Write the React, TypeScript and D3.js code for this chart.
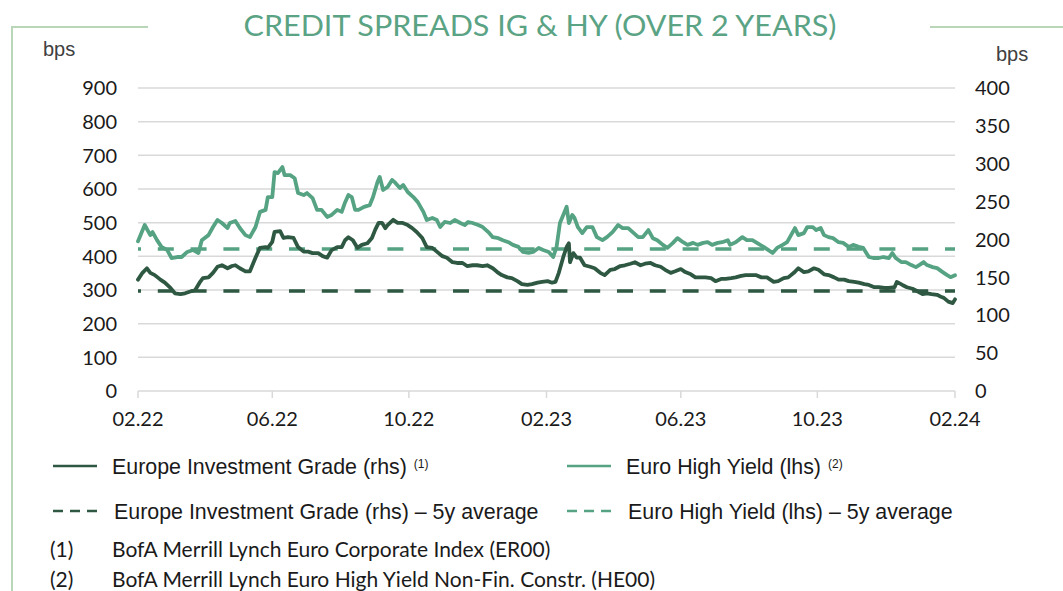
import React, { useRef, useEffect } from "react";
import * as d3 from "d3";

// days since 01.02.2022, spread in bps
const euroHighYield: [number, number][] = [
  [0, 445], [6, 493], [11, 463], [13, 472], [17, 448], [21, 428], [26, 419], [30, 395],
  [35, 398], [39, 398], [44, 413], [49, 419], [54, 410], [57, 448], [63, 463], [67, 487],
  [71, 508], [75, 499], [80, 484], [82, 499], [87, 505], [91, 484], [96, 463], [100, 457],
  [105, 487], [109, 532], [114, 538], [116, 576], [120, 576], [122, 650], [125, 647], [129, 665],
  [131, 641], [136, 641], [140, 632], [143, 588], [148, 582], [151, 588], [156, 573], [160, 538],
  [164, 538], [169, 517], [173, 523], [178, 538], [182, 532], [185, 560], [188, 582], [191, 576],
  [194, 538], [197, 538], [202, 547], [207, 552], [210, 576], [214, 621], [216, 636], [219, 597],
  [223, 606], [227, 627], [230, 618], [234, 603], [237, 612], [241, 591], [246, 576], [250, 561],
  [255, 532], [258, 508], [263, 514], [267, 508], [270, 487], [274, 502], [279, 499], [283, 508],
  [288, 499], [292, 493], [295, 502], [299, 499], [304, 493], [308, 487], [313, 472], [317, 457],
  [322, 454], [326, 448], [331, 442], [335, 434], [340, 428], [344, 413], [349, 410], [353, 413],
  [358, 425], [362, 419], [367, 413], [371, 398], [374, 428], [377, 499], [380, 523], [383, 547],
  [385, 499], [388, 523], [390, 514], [393, 487], [397, 469], [401, 487], [406, 487], [410, 457],
  [415, 448], [419, 457], [424, 472], [429, 493], [433, 484], [438, 484], [442, 472], [447, 457],
  [451, 457], [456, 478], [460, 454], [464, 448], [469, 434], [473, 425], [478, 440], [482, 454],
  [487, 442], [491, 434], [496, 440], [500, 434], [505, 440], [509, 442], [513, 434], [518, 440],
  [522, 442], [527, 448], [529, 434], [534, 442], [540, 457], [544, 448], [549, 448], [553, 440],
  [559, 428], [563, 419], [567, 410], [571, 425], [576, 434], [580, 442], [585, 472], [587, 484],
  [590, 463], [595, 469], [598, 487], [603, 487], [606, 478], [610, 484], [613, 463], [617, 457],
  [621, 454], [626, 442], [630, 440], [635, 428], [639, 434], [644, 428], [648, 425], [653, 398],
  [657, 395], [662, 395], [666, 398], [671, 395], [674, 410], [677, 395], [682, 383], [686, 383],
  [691, 374], [695, 368], [698, 374], [702, 383], [705, 374], [710, 368], [714, 365], [719, 353],
  [723, 344], [726, 338], [730, 344],
];

const europeIG: [number, number][] = [
  [0, 147], [4, 156], [8, 162], [11, 156], [15, 153], [20, 147], [24, 143], [29, 136],
  [33, 129], [38, 128], [42, 129], [46, 131], [51, 133], [55, 143], [58, 149], [63, 150],
  [67, 156], [71, 164], [75, 166], [80, 162], [84, 165], [87, 166], [91, 162], [96, 158],
  [100, 158], [105, 176], [109, 189], [114, 190], [116, 189], [120, 197], [122, 210], [127, 211],
  [130, 202], [134, 203], [139, 202], [143, 190], [148, 184], [152, 184], [156, 182], [161, 182],
  [165, 178], [169, 176], [173, 186], [178, 190], [182, 190], [185, 199], [188, 203], [192, 199],
  [196, 189], [200, 193], [205, 195], [209, 202], [212, 213], [215, 222], [218, 222], [221, 215],
  [223, 219], [228, 226], [232, 222], [236, 222], [241, 219], [245, 215], [249, 210], [254, 202],
  [258, 190], [263, 189], [267, 184], [272, 178], [276, 176], [281, 170], [285, 169], [290, 169],
  [294, 165], [299, 166], [303, 166], [308, 165], [312, 166], [317, 162], [321, 157], [325, 153],
  [330, 150], [334, 149], [339, 145], [343, 141], [348, 140], [352, 141], [357, 143], [361, 144],
  [366, 145], [370, 143], [373, 144], [376, 156], [380, 177], [383, 190], [385, 195], [386, 170],
  [389, 182], [392, 176], [395, 176], [399, 166], [404, 164], [408, 162], [413, 156], [417, 153],
  [422, 160], [426, 161], [431, 165], [435, 166], [440, 168], [444, 170], [449, 166], [453, 168],
  [458, 169], [462, 166], [467, 164], [471, 160], [476, 156], [480, 158], [485, 161], [489, 157],
  [494, 154], [498, 150], [503, 150], [507, 150], [512, 149], [516, 145], [521, 148], [525, 148],
  [530, 149], [534, 150], [539, 152], [543, 153], [548, 153], [552, 153], [557, 150], [562, 150],
  [568, 144], [572, 145], [577, 149], [581, 150], [586, 156], [590, 162], [595, 157], [599, 158],
  [604, 162], [608, 160], [613, 154], [617, 153], [622, 150], [626, 147], [631, 147], [635, 145],
  [640, 144], [644, 143], [649, 141], [653, 140], [658, 137], [662, 137], [667, 136], [671, 136],
  [676, 137], [678, 144], [683, 140], [687, 137], [692, 135], [696, 132], [701, 128], [705, 129],
  [709, 128], [714, 127], [718, 124], [720, 123], [724, 118], [728, 116], [730, 121],
];

const hyAverage = 422;
const igAverage = 132;

const leftTicks = [0, 100, 200, 300, 400, 500, 600, 700, 800, 900];
const rightTicks = [0, 50, 100, 150, 200, 250, 300, 350, 400];

const legendItems = [
  { label: "Europe Investment Grade (rhs)", note: "(1)", color: "#2e5842", dashed: false, x: 53, y: 466 },
  { label: "Euro High Yield (lhs)", note: "(2)", color: "#55a383", dashed: false, x: 567, y: 466 },
  { label: "Europe Investment Grade (rhs) \u2013 5y average", note: "", color: "#2e5842", dashed: true, x: 53, y: 511 },
  { label: "Euro High Yield (lhs) \u2013 5y average", note: "", color: "#55a383", dashed: true, x: 567, y: 511 },
];

const footnotes = [
  ["(1)", "BofA Merrill Lynch Euro Corporate Index (ER00)"],
  ["(2)", "BofA Merrill Lynch Euro High Yield Non-Fin. Constr. (HE00)"],
];

const App = () => {
  const ref = useRef<SVGSVGElement>(null);

  const layout = { width: 1063, height: 591, left: 138, right: 955, top: 88, bottom: 391 };

  useEffect(() => {
    const svg = d3.select(ref.current);
    svg.selectAll("*").remove();

    const start = new Date(2022, 1, 1);
    const end = new Date(2024, 1, 1);
    const toDate = (d: number) => d3.timeDay.offset(start, d);

    const x = d3.scaleTime().domain([start, end]).range([layout.left, layout.right]);
    const yLeft = d3.scaleLinear().domain([0, 900]).range([layout.bottom, layout.top]);
    const yRight = d3.scaleLinear().domain([0, 400]).range([layout.bottom, layout.top]);

    // frame
    const frame = "#b9d6b9";
    svg.append("path")
      .attr("d", "M148,27 H12 V591")
      .attr("fill", "none").attr("stroke", frame).attr("stroke-width", 2);
    svg.append("line")
      .attr("x1", 930).attr("x2", 1063).attr("y1", 27).attr("y2", 27)
      .attr("stroke", frame).attr("stroke-width", 2);

    svg.append("text")
      .attr("x", 540).attr("y", 36)
      .attr("text-anchor", "middle")
      .attr("font-family", "Lato")
      .attr("font-size", 28)
      .attr("fill", "#5aa384")
      .attr("textLength", 593)
      .attr("lengthAdjust", "spacingAndGlyphs")
      .text("CREDIT SPREADS IG & HY (OVER 2 YEARS)");

    svg.append("text").attr("x", 43).attr("y", 56)
      .attr("font-family", "Liberation Sans").attr("font-size", 20).attr("fill", "#404040").text("bps");
    svg.append("text").attr("x", 996).attr("y", 61)
      .attr("font-family", "Liberation Sans").attr("font-size", 20).attr("fill", "#404040").text("bps");

    // grid
    svg.append("g").selectAll("line")
      .data(leftTicks)
      .join("line")
      .attr("x1", layout.left).attr("x2", layout.right)
      .attr("y1", d => yLeft(d)).attr("y2", d => yLeft(d))
      .attr("stroke", "#d9d9d9").attr("stroke-width", 1.5);

    const xTicks = d3.timeMonths(start, d3.timeDay.offset(end, 1), 4);
    svg.append("g").selectAll("line")
      .data(xTicks)
      .join("line")
      .attr("x1", d => x(d)).attr("x2", d => x(d))
      .attr("y1", layout.bottom).attr("y2", layout.bottom + 7)
      .attr("stroke", "#d9d9d9").attr("stroke-width", 1.5);

    const fmt = d3.timeFormat("%m.%y");
    svg.append("g").selectAll("text")
      .data(xTicks)
      .join("text")
      .attr("x", d => x(d)).attr("y", 426)
      .attr("text-anchor", "middle")
      .attr("font-family", "Lato").attr("font-size", 20).attr("fill", "#1a1a1a")
      .text(d => fmt(d));

    svg.append("g").selectAll("text")
      .data(leftTicks)
      .join("text")
      .attr("x", 117).attr("y", d => yLeft(d))
      .attr("dy", "0.36em")
      .attr("text-anchor", "end")
      .attr("font-family", "Lato").attr("font-size", 20).attr("fill", "#1a1a1a")
      .text(d => d);

    svg.append("g").selectAll("text")
      .data(rightTicks)
      .join("text")
      .attr("x", 975).attr("y", d => yRight(d))
      .attr("dy", "0.36em")
      .attr("font-family", "Lato").attr("font-size", 20).attr("fill", "#1a1a1a")
      .text(d => d);

    // 5y averages
    const avgs = [
      { y: yLeft(hyAverage), color: "#55a383" },
      { y: yRight(igAverage), color: "#2e5842" },
    ];
    svg.append("g").selectAll("line")
      .data(avgs)
      .join("line")
      .attr("x1", layout.left).attr("x2", layout.right)
      .attr("y1", d => d.y).attr("y2", d => d.y)
      .attr("stroke", d => d.color).attr("stroke-width", 3.5)
      .attr("stroke-dasharray", "16,16.8")
      .attr("stroke-dashoffset", 13);

    const lineHY = d3.line<[number, number]>()
      .x(d => x(toDate(d[0])))
      .y(d => yLeft(d[1]));
    const lineIG = d3.line<[number, number]>()
      .x(d => x(toDate(d[0])))
      .y(d => yRight(d[1]));

    svg.append("path")
      .datum(europeIG)
      .attr("d", lineIG)
      .attr("fill", "none").attr("stroke", "#2e5842")
      .attr("stroke-width", 3.8).attr("stroke-linejoin", "round").attr("stroke-linecap", "round");

    svg.append("path")
      .datum(euroHighYield)
      .attr("d", lineHY)
      .attr("fill", "none").attr("stroke", "#55a383")
      .attr("stroke-width", 3.8).attr("stroke-linejoin", "round").attr("stroke-linecap", "round");

    // legend
    const legend = svg.append("g").selectAll("g")
      .data(legendItems)
      .join("g")
      .attr("transform", d => `translate(${d.x}, ${d.y})`);

    legend.append("line")
      .attr("x1", 0).attr("x2", 44)
      .attr("stroke", d => d.color).attr("stroke-width", 2.5)
      .attr("stroke-dasharray", d => (d.dashed ? "10,7" : null));

    const legendText = legend.append("text")
      .attr("x", d => (d.dashed ? 61 : 59)).attr("y", 0).attr("dy", "0.35em")
      .attr("font-family", "Liberation Sans").attr("font-size", 21.4).attr("fill", "#1a1a1a");
    legendText.append("tspan").text(d => d.label);
    legendText.append("tspan")
      .attr("dx", 7).attr("dy", "-0.45em").attr("font-size", 12)
      .text(d => d.note);

    svg.append("g").selectAll("text")
      .data(footnotes)
      .join("text")
      .attr("y", (d, i) => 557 + i * 30)
      .attr("font-family", "Lato").attr("font-size", 21).attr("fill", "#1a1a1a")
      .call(t => {
        t.append("tspan").attr("x", 50).text(d => d[0]);
        t.append("tspan").attr("x", 112).text(d => d[1]);
      });
  }, []);

  return (
    <svg
      ref={ref}
      width={layout.width}
      height={layout.height}
      style={{ position: "absolute", left: 0, top: 0, background: "#fff" }}
    />
  );
};

export default App;
